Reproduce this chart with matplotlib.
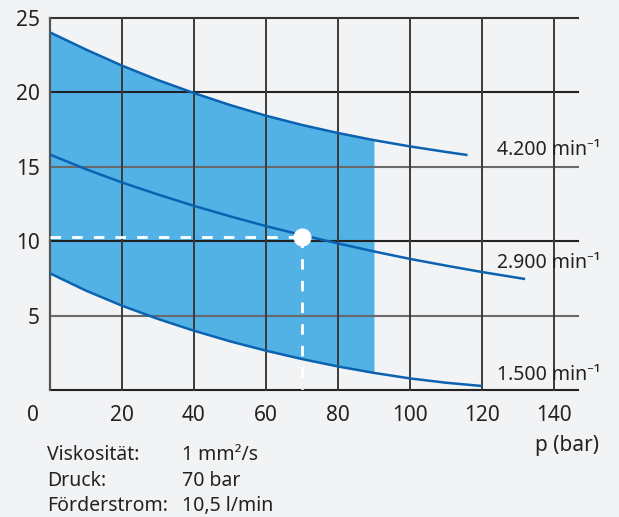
import matplotlib
matplotlib.use("Agg")
import matplotlib.pyplot as plt
import numpy as np

plt.rcParams['font.family'] = ['Noto Sans', 'DejaVu Sans']

# ---- data ----
x_4200 = [0, 10, 20, 30, 40, 50, 60, 70, 80, 90, 100, 110, 116]
y_4200 = [24.0, 22.85, 21.77, 20.8, 19.93, 19.13, 18.41, 17.79, 17.25, 16.77, 16.35, 15.98, 15.77]

x_2900 = [0, 10, 20, 30, 40, 50, 60, 70, 80, 90, 100, 110, 120, 132]
y_2900 = [15.8, 14.82, 13.93, 13.12, 12.36, 11.66, 11.0, 10.4, 9.84, 9.3, 8.8, 8.35, 7.92, 7.45]

x_1500 = [0, 10, 20, 30, 40, 50, 60, 70, 80, 90, 100, 110, 120]
y_1500 = [7.83, 6.67, 5.66, 4.77, 3.98, 3.27, 2.64, 2.08, 1.58, 1.15, 0.78, 0.49, 0.27]

fill_max_p = 90
op_p = 70
op_q = 10.3

curve_labels = ["4.200 min\u207b\u00b9", "2.900 min\u207b\u00b9", "1.500 min\u207b\u00b9"]
curve_label_y = [16.1, 8.5, 1.0]

x_ticks = [20, 40, 60, 80, 100, 120, 140]
y_ticks = [5, 10, 15, 20, 25]
h_grid = [0, 5, 10, 15, 20, 25]
v_grid = [20, 40, 60, 80, 100, 120, 140]

info_keys = ["Viskosität:", "Druck:", "Förderstrom:"]
info_vals = ["1 mm\u00b2/s", "70 bar", "10,5 l/min"]

# ---- style ----
bg = '#f2f3f5'
fill_c = '#52b2e6'
line_c = '#0b62b0'
txt_c = '#222222'

fig = plt.figure(figsize=(6.19, 5.17), dpi=100, facecolor=bg)
ax = fig.add_axes([0.0808, 0.2456, 0.853, 0.7205])
ax.set_facecolor(bg)
ax.set_xlim(0, 146.7)
ax.set_ylim(0, 25)
for s in ax.spines.values():
    s.set_visible(False)

# grid
h_colors = {0: '#222222', 5: '#6a6a6a', 10: '#222222', 15: '#6a6a6a', 20: '#222222', 25: '#333333'}
for yv in h_grid:
    ax.axhline(yv, color=h_colors[yv], lw=1.5, zorder=3, clip_on=False)
for xv in v_grid:
    ax.plot([xv, xv], [0, 25], color='#3a3a3a', lw=1.4, zorder=3, clip_on=False)
ax.plot([0, 0], [0, 25], color='#555555', lw=1.6, zorder=3, clip_on=False)

# fill
xu = np.array(x_4200); yu = np.array(y_4200)
xl = np.array(x_1500); yl = np.array(y_1500)
mu = xu <= fill_max_p
ml = xl <= fill_max_p
ax.fill_between(xu[mu], yl[ml], yu[mu], color=fill_c, lw=0, zorder=1)

# curves
for xs, ys in [(x_4200, y_4200), (x_2900, y_2900), (x_1500, y_1500)]:
    ax.plot(xs, ys, color=line_c, lw=1.8, zorder=4, solid_capstyle='butt',
            solid_joinstyle='round')

# operating point
ax.plot([0, op_p], [op_q, op_q], color='white', lw=2, ls=(0, (3.8, 4.0)), zorder=5)
ax.plot([op_p, op_p], [op_q, 0], color='white', lw=2, ls=(0, (3.8, 4.0)), zorder=5)
ax.plot([op_p], [op_q], 'o', color='white', ms=12, mec='white', zorder=6)

# curve labels
for lab, yv in zip(curve_labels, curve_label_y):
    ax.text(124.2, yv, lab, fontsize=14, color=txt_c, va='center', ha='left', zorder=7)

# ticks
ax.set_xticks(x_ticks)
ax.set_yticks(y_ticks)
ax.tick_params(axis='both', length=0, labelsize=15, colors=txt_c)
ax.tick_params(axis='x', pad=11)
ax.tick_params(axis='y', pad=7.5)
ax.text(-4.8, 0, "0", fontsize=15, color=txt_c, ha='center', va='top',
        transform=ax.transData + matplotlib.transforms.ScaledTranslation(0, -11/72, fig.dpi_scale_trans))

fig.text(567/619, 1 - 446/517, "p (bar)", fontsize=15, color=txt_c, ha='center', va='center')

for i, (k, v) in enumerate(zip(info_keys, info_vals)):
    yy = 1 - (455 + i * 25.5) / 517
    fig.text(47/619, yy, k, fontsize=14, color=txt_c, ha='left', va='center')
    fig.text(182/619, yy, v, fontsize=14, color=txt_c, ha='left', va='center')

fig.savefig('out.png', dpi=100, facecolor=bg)
